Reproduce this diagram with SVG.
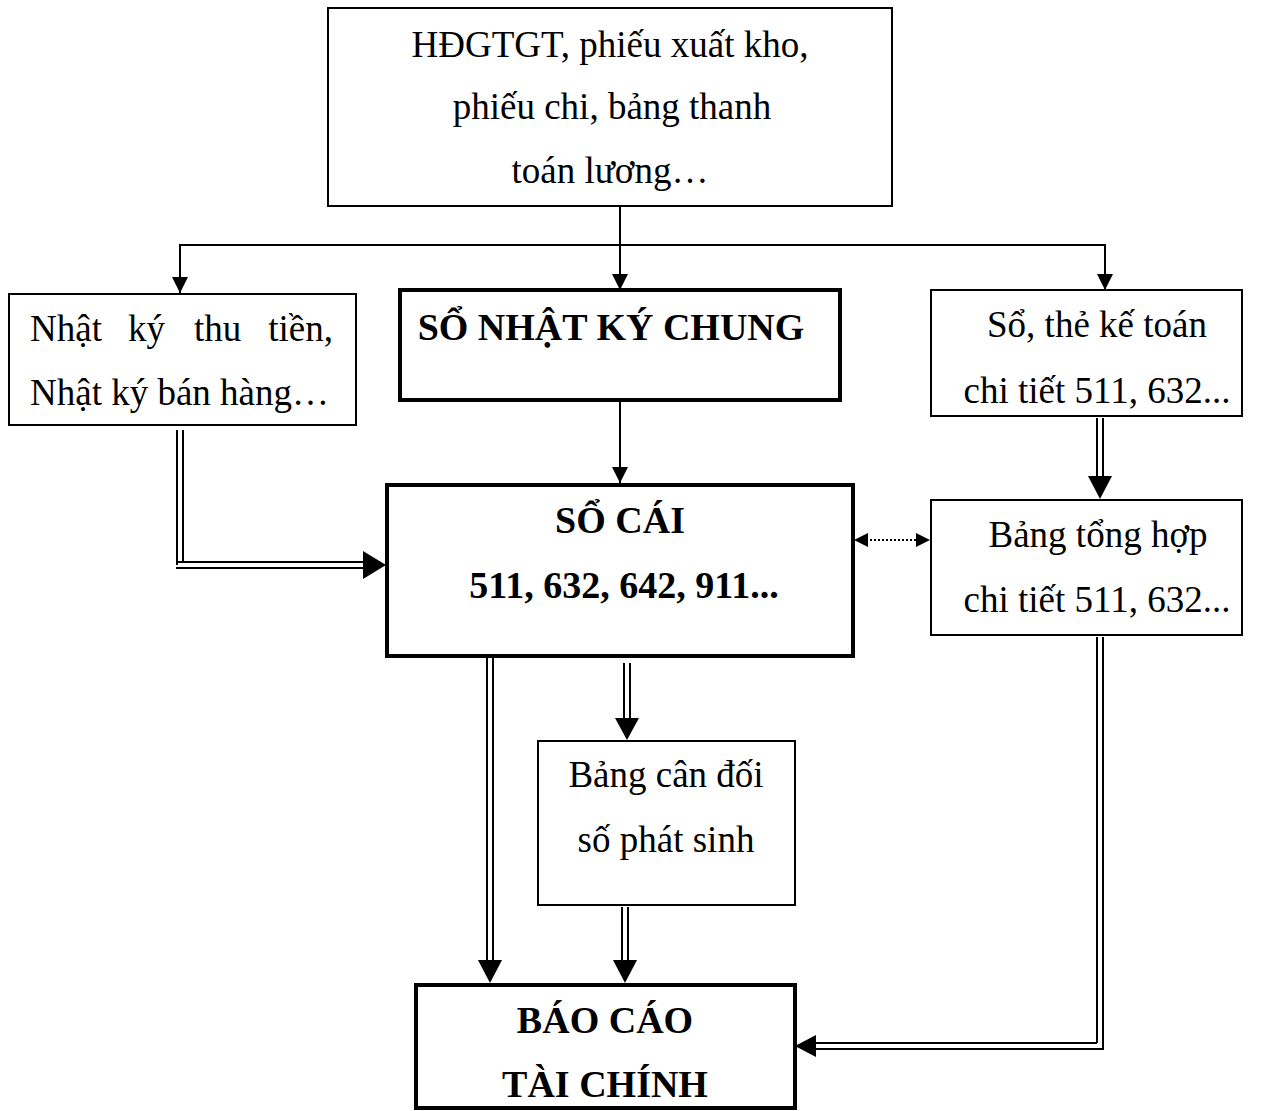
<svg xmlns="http://www.w3.org/2000/svg" width="1272" height="1111" viewBox="0 0 1272 1111">
<defs>
<style>
.box{fill:#fff;stroke:#000;stroke-width:2}
.bbox{fill:#fff;stroke:#000;stroke-width:4}
.t{font-family:"Liberation Serif","Times New Roman",serif;font-size:37px;fill:#000}
.tb{font-family:"Liberation Serif","Times New Roman",serif;font-size:38px;font-weight:bold;fill:#000}
.ln{fill:none;stroke:#000;stroke-width:2}
.dot{fill:none;stroke:#000;stroke-width:2;stroke-dasharray:2 2}
.ah{fill:#000}
</style>
<marker id="a" viewBox="0 0 10 10" refX="10" refY="5" markerWidth="16" markerHeight="16" markerUnits="userSpaceOnUse" orient="auto"><path d="M0,0 L10,5 L0,10 Z" fill="#000"/></marker>
</defs>
<rect width="1272" height="1111" fill="#fff"/>
<g id="connectors">
<line class="ln" x1="620" y1="206" x2="620" y2="290" marker-end="url(#a)"/>
<polyline class="ln" points="180,293 180,245 1105,245 1105,290"/>
<line class="ln" x1="180" y1="250" x2="180" y2="293" marker-end="url(#a)"/>
<line class="ln" x1="1105" y1="250" x2="1105" y2="290" marker-end="url(#a)"/>
<line class="ln" x1="620" y1="401" x2="620" y2="483" marker-end="url(#a)"/>
<path class="ln" d="M177,430 V565"/>
<path class="ln" d="M183,430 V562"/>
<path class="ln" d="M176,562 H366"/>
<path class="ln" d="M176,568 H366"/>
<path class="ah" d="M363,551 L386,565 L363,579 Z"/>
<path class="ln" d="M1097,418 V478"/>
<path class="ln" d="M1103,418 V478"/>
<path class="ah" d="M1088,476 L1100,499 L1112,476 Z"/>
<line class="dot" x1="866" y1="540" x2="918" y2="540"/>
<path class="ah" d="M854,540 L868,533 L868,547 Z"/>
<path class="ah" d="M930,540 L916,533 L916,547 Z"/>
<path class="ln" d="M624,663 V720"/>
<path class="ln" d="M630,663 V720"/>
<path class="ah" d="M615,718 L627,740 L639,718 Z"/>
<path class="ln" d="M487,658 V962"/>
<path class="ln" d="M493,658 V962"/>
<path class="ah" d="M478,960 L490,983 L502,960 Z"/>
<path class="ln" d="M622,907 V962"/>
<path class="ln" d="M628,907 V962"/>
<path class="ah" d="M613,960 L625,983 L637,960 Z"/>
<path class="ln" d="M1097,637 V1043"/>
<path class="ln" d="M1103,637 V1049"/>
<path class="ln" d="M814,1043 H1097"/>
<path class="ln" d="M814,1049 H1104"/>
<path class="ah" d="M816,1035 L795,1046 L816,1057 Z"/>
</g>
<g id="n-chungtu">
<rect class="box" x="328" y="8" width="564" height="198"/>
<text class="t" x="610" y="57" text-anchor="middle">HĐGTGT, phiếu xuất kho,</text>
<text class="t" x="612" y="119" text-anchor="middle">phiếu chi, bảng thanh</text>
<text class="t" x="610" y="183" text-anchor="middle">toán lương…</text>
</g>
<g id="n-nhatkydacbiet">
<rect class="box" x="9" y="294" width="347" height="131"/>
<text class="t" y="341"><tspan x="30">Nhật</tspan><tspan x="128">ký</tspan><tspan x="194">thu</tspan><tspan x="333" text-anchor="end">tiền,</tspan></text>
<text class="t" x="30" y="405">Nhật ký bán hàng…</text>
</g>
<g id="n-nkc">
<rect class="bbox" x="400" y="290" width="440" height="110"/>
<text class="tb" x="611" y="340" text-anchor="middle">SỔ NHẬT KÝ CHUNG</text>
</g>
<g id="n-sochitiet">
<rect class="box" x="931" y="290" width="311" height="126"/>
<text class="t" x="1097" y="337" text-anchor="middle">Sổ, thẻ kế toán</text>
<text class="t" x="1097" y="403" text-anchor="middle">chi tiết 511, 632...</text>
</g>
<g id="n-socai">
<rect class="bbox" x="387" y="485" width="466" height="171"/>
<text class="tb" x="620" y="533" text-anchor="middle">SỔ CÁI</text>
<text class="tb" x="624" y="598" text-anchor="middle">511, 632, 642, 911...</text>
</g>
<g id="n-tonghop">
<rect class="box" x="931" y="500" width="311" height="135"/>
<text class="t" x="1098" y="547" text-anchor="middle">Bảng tổng hợp</text>
<text class="t" x="1097" y="612" text-anchor="middle">chi tiết 511, 632...</text>
</g>
<g id="n-candoi">
<rect class="box" x="538" y="741" width="257" height="164"/>
<text class="t" x="666" y="787" text-anchor="middle">Bảng cân đối</text>
<text class="t" x="666" y="852" text-anchor="middle">số phát sinh</text>
</g>
<g id="n-baocao">
<rect class="bbox" x="416" y="985" width="379" height="123"/>
<text class="tb" x="605" y="1033" text-anchor="middle">BÁO CÁO</text>
<text class="tb" x="605" y="1097" text-anchor="middle">TÀI CHÍNH</text>
</g>
</svg>
